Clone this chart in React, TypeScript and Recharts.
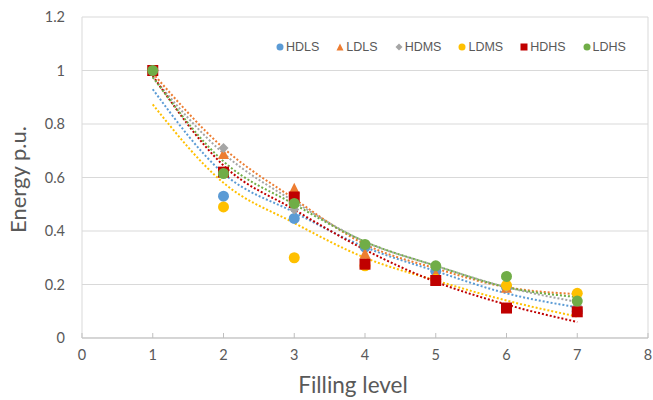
import { ComposedChart, Scatter, Line, XAxis, YAxis, CartesianGrid, ReferenceLine } from "recharts";

// filling levels
const levels = [1, 2, 3, 4, 5, 6, 7];

// measured energy (p.u.) per case
const hdls = [1, 0.53, 0.447, 0.34, 0.25, 0.19, 0.1];
const ldls = [1, 0.69, 0.56, 0.317, 0.24, 0.19, 0.11];
const hdms = [1, 0.71, 0.48, 0.35, 0.27, 0.19, 0.12];
const ldms = [1, 0.49, 0.3, 0.27, 0.22, 0.197, 0.167];
const hdhs = [1, 0.62, 0.527, 0.276, 0.215, 0.112, 0.098];
const ldhs = [1, 0.615, 0.503, 0.35, 0.27, 0.23, 0.138];

// trendline values at each level
const hdlsTrend = [0.93, 0.615, 0.47, 0.34, 0.25, 0.167, 0.115];
const ldlsTrend = [0.99, 0.71, 0.52, 0.35, 0.26, 0.19, 0.164];
const hdmsTrend = [0.975, 0.69, 0.51, 0.36, 0.27, 0.19, 0.135];
const ldmsTrend = [0.873, 0.58, 0.43, 0.3, 0.215, 0.14, 0.08];
const hdhsTrend = [0.98, 0.645, 0.48, 0.33, 0.21, 0.125, 0.06];
const ldhsTrend = [0.975, 0.66, 0.5, 0.36, 0.27, 0.19, 0.153];

const xTicks = [0, 1, 2, 3, 4, 5, 6, 7, 8];
const yTicks = [0, 0.2, 0.4, 0.6, 0.8, 1, 1.2];

const toPoints = (vals: number[]) => levels.map((x, i) => ({ x, y: vals[i] }));

type Shape = "circle" | "triangle" | "diamond" | "square";

const series: { name: string; color: string; shape: Shape; values: number[]; trend: number[] }[] = [
  { name: "HDLS", color: "#5B9BD5", shape: "circle", values: hdls, trend: hdlsTrend },
  { name: "LDLS", color: "#ED7D31", shape: "triangle", values: ldls, trend: ldlsTrend },
  { name: "HDMS", color: "#A5A5A5", shape: "diamond", values: hdms, trend: hdmsTrend },
  { name: "LDMS", color: "#FFC000", shape: "circle", values: ldms, trend: ldmsTrend },
  { name: "HDHS", color: "#C00000", shape: "square", values: hdhs, trend: hdhsTrend },
  { name: "LDHS", color: "#70AD47", shape: "circle", values: ldhs, trend: ldhsTrend },
];

const FONT = "Lato, 'Open Sans', sans-serif";
const GRID = "#D9D9D9";
const TEXT = "#595959";

const Marker = ({ cx, cy, shape, color, s }: { cx: number; cy: number; shape: Shape; color: string; s: number }) => {
  const h = s / 2;
  if (shape === "triangle")
    return <polygon points={`${cx},${cy - h} ${cx + h},${cy + h} ${cx - h},${cy + h}`} fill={color} />;
  if (shape === "diamond")
    return <polygon points={`${cx},${cy - h} ${cx + h},${cy} ${cx},${cy + h} ${cx - h},${cy}`} fill={color} />;
  if (shape === "square") return <rect x={cx - h} y={cy - h} width={s} height={s} fill={color} />;
  return <circle cx={cx} cy={cy} r={h} fill={color} />;
};

const XTick = ({ x, y, payload }: any) => (
  <g>
    <line x1={x} x2={x} y1={y} y2={y - 5} stroke="#BFBFBF" />
    <text x={x} y={y + 22} textAnchor="middle" fill={TEXT} fontSize={14.5} fontFamily={FONT}>
      {payload.value}
    </text>
  </g>
);

const LegendBox = () => (
  <div
    style={{
      position: "absolute",
      left: 276,
      top: 40,
      display: "flex",
      gap: 17,
      fontFamily: "'Liberation Sans', Arial, sans-serif",
      fontSize: 12.5,
      color: TEXT,
    }}
  >
    {series.map((s) => (
      <div key={s.name} style={{ display: "flex", alignItems: "center" }}>
        <svg width={8} height={8} style={{ marginRight: 2 }}>
          <Marker cx={4} cy={4} shape={s.shape} color={s.color} s={7} />
        </svg>
        <span>{s.name}</span>
      </div>
    ))}
  </div>
);

export default function App() {
  return (
    <div style={{ position: "absolute", left: 0, top: 0, width: 653, height: 400, background: "#fff" }}>
      <ComposedChart width={653} height={400} margin={{ top: 17, right: 5, bottom: 32, left: 0 }}>
        <CartesianGrid vertical={false} stroke={GRID} />
        <XAxis
          type="number"
          dataKey="x"
          domain={[0, 8]}
          ticks={xTicks}
          height={30}
          axisLine={{ stroke: "#BFBFBF" }}
          tickLine={false}
          tickSize={0}
          tickMargin={0}
          tick={<XTick />}
          label={{
            value: "Filling level",
            position: "bottom",
            offset: 9,
            dx: -12,
            fill: TEXT,
            fontSize: 22.5,
            fontFamily: FONT,
          }}
        />
        <YAxis
          type="number"
          domain={[0, 1.2]}
          ticks={yTicks}
          width={82}
          axisLine={{ stroke: GRID }}
          tickLine={false}
          tickSize={0}
          tickMargin={17}
          tick={{ fill: TEXT, fontSize: 14.5, fontFamily: FONT }}
          label={{
            value: "Energy p.u.",
            angle: -90,
            position: "insideLeft",
            offset: 18,
            dy: 2,
            fill: TEXT,
            fontSize: 22,
            fontFamily: FONT,
            style: { textAnchor: "middle" },
          }}
        />
        <ReferenceLine x={8} stroke={GRID} />
        {series.map((s) => (
          <Scatter
            key={s.name}
            name={s.name}
            data={toPoints(s.values)}
            dataKey="y"
            isAnimationActive={false}
            shape={(p: any) => (
              <Marker cx={p.cx} cy={p.cy} shape={s.shape} color={s.color} s={s.shape === "diamond" ? 10 : 11} />
            )}
          />
        ))}
        {series.map((s) => (
          <Line
            key={s.name + "-trend"}
            data={toPoints(s.trend)}
            dataKey="y"
            type="monotone"
            stroke={s.color}
            strokeWidth={2}
            strokeDasharray="2 2"
            dot={false}
            activeDot={false}
            isAnimationActive={false}
          />
        ))}
      </ComposedChart>
      <LegendBox />
    </div>
  );
}
